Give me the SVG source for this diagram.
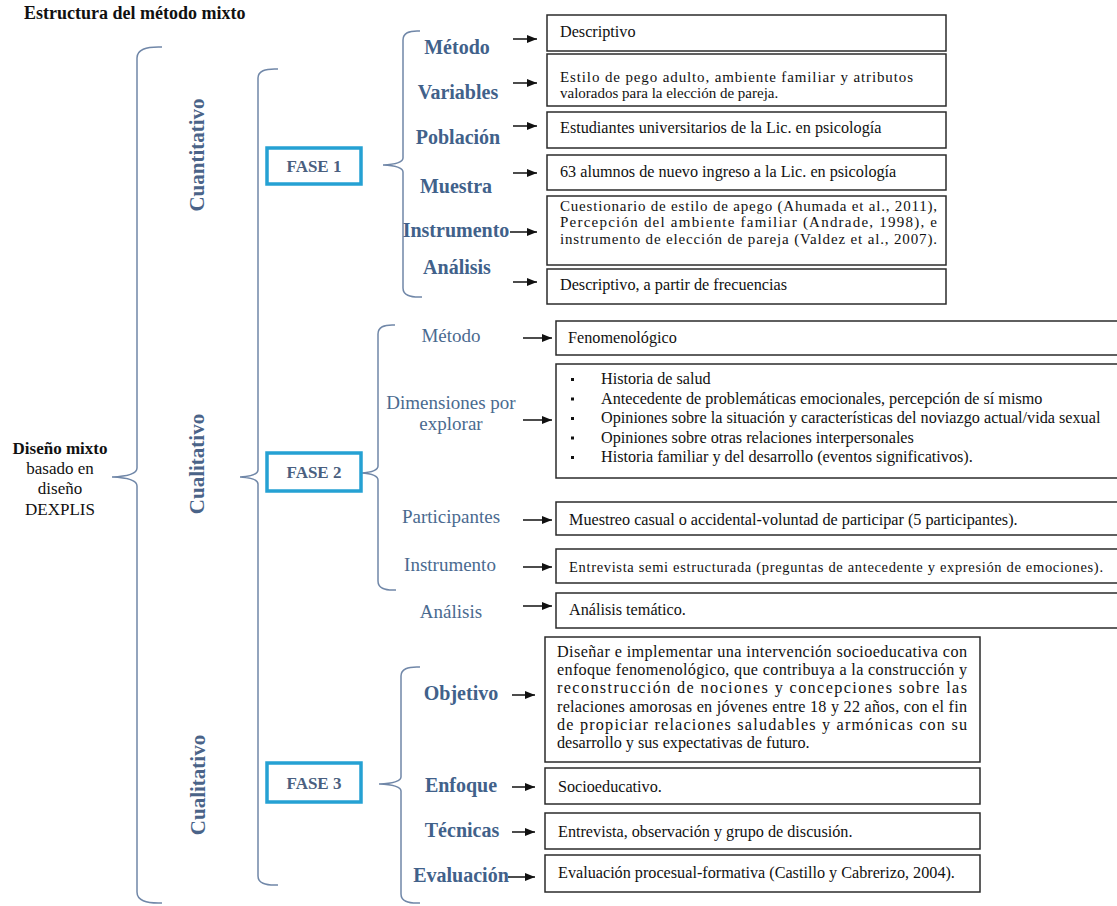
<svg xmlns="http://www.w3.org/2000/svg" width="1117" height="906" viewBox="0 0 1117 906">
<defs>
<style>
.title{font:bold 18px "Liberation Serif",serif;fill:#111}
.lb1{font:bold 20px "Liberation Serif",serif;fill:#41618a;text-anchor:middle}
.lb2{font:19px "Liberation Serif",serif;fill:#4a6a8f;text-anchor:middle}
.vt{font:bold 21px "Liberation Serif",serif;fill:#4a6388;text-anchor:middle}
.ft{font:bold 17px "Liberation Serif",serif;fill:#4a5f80;text-anchor:middle}
.fase{fill:#fff;stroke:#25a1d3;stroke-width:3.5}
.box{fill:#fff;stroke:#2b2b2b;stroke-width:1.5}
.bt{font:16.2px "Liberation Serif",serif;fill:#111}
.bs{font:15px "Liberation Serif",serif;fill:#111}
.lt{font:17px "Liberation Serif",serif;fill:#111;text-anchor:middle}
.brace{fill:none;stroke:#7087a8;stroke-width:1.5}
.arr{stroke:#111;stroke-width:1.5;marker-end:url(#ah)}
</style>
<marker id="ah" markerUnits="userSpaceOnUse" markerWidth="10" markerHeight="8" refX="10" refY="4" orient="auto">
<path d="M0,0 L10,4 L0,8 z" fill="#111"/>
</marker>
</defs>
<rect width="1117" height="906" fill="#fff"/>
<text class="title" x="24" y="19">Estructura del método mixto</text>

<g id="root">
<text class="lt" style="font-weight:bold" x="60" y="454">Diseño mixto</text>
<text class="lt" x="60" y="474">basado en</text>
<text class="lt" x="60" y="494">diseño</text>
<text class="lt" x="60" y="515">DEXPLIS</text>
</g>

<g id="connectors">
<path class="brace" d="M162,47 Q137,46 137,58 L137,468 Q137,476 112,477 Q137,478 137,486 L137,892 Q137,904 162,903"/>
<path class="brace" d="M278,69 Q258,68 258,78 L258,470 Q258,476 240,477 Q258,478 258,484 L258,876 Q258,886 278,885"/>
<path class="brace" d="M420,31 Q403,30 403,40 L403,158 Q403,164 383,165 Q403,166 403,172 L403,288 Q403,298 422,297"/>
<path class="brace" d="M395,325 Q378,324 378,334 L378,466 Q378,472 361,473 Q378,474 378,480 L378,581 Q378,591 396,590"/>
<path class="brace" d="M420,667 Q401,666 401,676 L401,777 Q401,783 379,784 Q401,785 401,791 L401,894 Q401,904 420,903"/>
<line class="arr" x1="513" y1="39" x2="537" y2="39"/>
<line class="arr" x1="513" y1="83" x2="537" y2="83"/>
<line class="arr" x1="513" y1="126" x2="537" y2="126"/>
<line class="arr" x1="513" y1="173" x2="537" y2="173"/>
<line class="arr" x1="510" y1="232" x2="537" y2="232"/>
<line class="arr" x1="513" y1="282" x2="537" y2="282"/>
<line class="arr" x1="523" y1="338" x2="552" y2="338"/>
<line class="arr" x1="523" y1="420" x2="552" y2="420"/>
<line class="arr" x1="523" y1="520" x2="552" y2="520"/>
<line class="arr" x1="523" y1="567" x2="552" y2="567"/>
<line class="arr" x1="523" y1="606" x2="552" y2="606"/>
<line class="arr" x1="512" y1="695" x2="535" y2="695"/>
<line class="arr" x1="512" y1="787" x2="535" y2="787"/>
<line class="arr" x1="512" y1="832" x2="535" y2="832"/>
<line class="arr" x1="508" y1="877" x2="535" y2="877"/>
</g>

<g id="approach-labels">
<text class="vt" transform="translate(197,155) rotate(-90)" dy="7">Cuantitativo</text>
<text class="vt" transform="translate(197,464) rotate(-90)" dy="7">Cualitativo</text>
<text class="vt" transform="translate(198,785) rotate(-90)" dy="7">Cualitativo</text>
</g>

<g id="fase1"><rect class="fase" x="267" y="148" width="94" height="36"/><text class="ft" x="314" y="172">FASE 1</text></g>
<g id="fase2"><rect class="fase" x="267" y="453" width="94" height="38"/><text class="ft" x="314" y="478">FASE 2</text></g>
<g id="fase3"><rect class="fase" x="267" y="763" width="94" height="39"/><text class="ft" x="314" y="789">FASE 3</text></g>

<g id="f1-metodo"><text class="lb1" x="457" y="54">Método</text><rect class="box" x="547" y="15" width="399" height="36"/><text class="bt" x="560" y="37">Descriptivo</text></g>
<g id="f1-variables"><text class="lb1" x="458" y="99">Variables</text><rect class="box" x="547" y="54" width="399" height="52"/><text class="bs" x="560" y="81.5" textLength="353" lengthAdjust="spacing">Estilo de pego adulto, ambiente familiar y atributos</text><text class="bs" x="560" y="98.2">valorados para la elección de pareja.</text></g>
<g id="f1-poblacion"><text class="lb1" x="458" y="144">Población</text><rect class="box" x="547" y="112" width="399" height="36"/><text class="bt" x="560" y="133">Estudiantes universitarios de la Lic. en psicología</text></g>
<g id="f1-muestra"><text class="lb1" x="456" y="193">Muestra</text><rect class="box" x="547" y="155" width="399" height="35"/><text class="bt" x="560" y="177">63 alumnos de nuevo ingreso a la Lic. en psicología</text></g>
<g id="f1-instrumento"><text class="lb1" x="456" y="237">Instrumento</text><rect class="box" x="547" y="196" width="399" height="69"/><text class="bs" x="560" y="210.5" textLength="377" lengthAdjust="spacing">Cuestionario de estilo de apego (Ahumada et al., 2011),</text><text class="bs" x="560" y="227.2" textLength="377" lengthAdjust="spacing">Percepción del ambiente familiar (Andrade, 1998), e</text><text class="bs" x="560" y="243.9" textLength="377" lengthAdjust="spacing">instrumento de elección de pareja (Valdez et al., 2007).</text></g>
<g id="f1-analisis"><text class="lb1" x="457" y="274">Análisis</text><rect class="box" x="547" y="269" width="399" height="35"/><text class="bt" x="560" y="290">Descriptivo, a partir de frecuencias</text></g>

<g id="f2-metodo"><text class="lb2" x="451" y="342">Método</text><rect class="box" x="556" y="321" width="566" height="34"/><text class="bt" x="568" y="343">Fenomenológico</text></g>
<g id="f2-dimensiones"><text class="lb2" x="451" y="409">Dimensiones por</text><text class="lb2" x="451" y="430">explorar</text><rect class="box" x="556" y="364" width="566" height="114"/>
<rect x="571" y="378" width="3" height="3" fill="#111"/><text class="bt" x="601" y="384">Historia de salud</text>
<rect x="571" y="397.5" width="3" height="3" fill="#111"/><text class="bt" x="601" y="403.5">Antecedente de problemáticas emocionales, percepción de sí mismo</text>
<rect x="571" y="417" width="3" height="3" fill="#111"/><text class="bt" x="601" y="423">Opiniones sobre la situación y características del noviazgo actual/vida sexual</text>
<rect x="571" y="436.5" width="3" height="3" fill="#111"/><text class="bt" x="601" y="442.5">Opiniones sobre otras relaciones interpersonales</text>
<rect x="571" y="456" width="3" height="3" fill="#111"/><text class="bt" x="601" y="462">Historia familiar y del desarrollo (eventos significativos).</text></g>
<g id="f2-participantes"><text class="lb2" x="451" y="523">Participantes</text><rect class="box" x="556" y="502" width="566" height="33"/><text class="bt" x="569" y="525">Muestreo casual o accidental-voluntad de participar (5 participantes).</text></g>
<g id="f2-instrumento"><text class="lb2" x="450" y="571">Instrumento</text><rect class="box" x="556" y="549" width="566" height="34"/><text class="bt" style="font-size:14.5px" x="569" y="572" textLength="534" lengthAdjust="spacing">Entrevista semi estructurada (preguntas de antecedente y expresión de emociones).</text></g>
<g id="f2-analisis"><text class="lb2" x="451" y="618">Análisis</text><rect class="box" x="556" y="593" width="566" height="35"/><text class="bt" x="569" y="615">Análisis temático.</text></g>

<g id="f3-objetivo"><text class="lb1" x="461" y="700">Objetivo</text><rect class="box" x="545" y="637" width="435" height="125"/>
<text class="bt" x="557" y="657" textLength="410" lengthAdjust="spacing">Diseñar e implementar una intervención socioeducativa con</text>
<text class="bt" x="557" y="675" textLength="410" lengthAdjust="spacing">enfoque fenomenológico, que contribuya a la construcción y</text>
<text class="bt" x="557" y="693" textLength="410" lengthAdjust="spacing">reconstrucción de nociones y concepciones sobre las</text>
<text class="bt" x="557" y="712" textLength="410" lengthAdjust="spacing">relaciones amorosas en jóvenes entre 18 y 22 años, con el fin</text>
<text class="bt" x="557" y="730" textLength="410" lengthAdjust="spacing">de propiciar relaciones saludables y armónicas con su</text>
<text class="bt" x="557" y="748">desarrollo y sus expectativas de futuro.</text></g>
<g id="f3-enfoque"><text class="lb1" x="461" y="792">Enfoque</text><rect class="box" x="545" y="768" width="435" height="36"/><text class="bt" x="558" y="792">Socioeducativo.</text></g>
<g id="f3-tecnicas"><text class="lb1" x="462" y="837">Técnicas</text><rect class="box" x="545" y="813" width="435" height="36"/><text class="bt" x="558" y="837">Entrevista, observación y grupo de discusión.</text></g>
<g id="f3-evaluacion"><text class="lb1" x="461" y="882">Evaluación</text><rect class="box" x="545" y="855" width="435" height="37"/><text class="bt" x="558" y="878">Evaluación procesual-formativa (Castillo y Cabrerizo, 2004).</text></g>
</svg>
